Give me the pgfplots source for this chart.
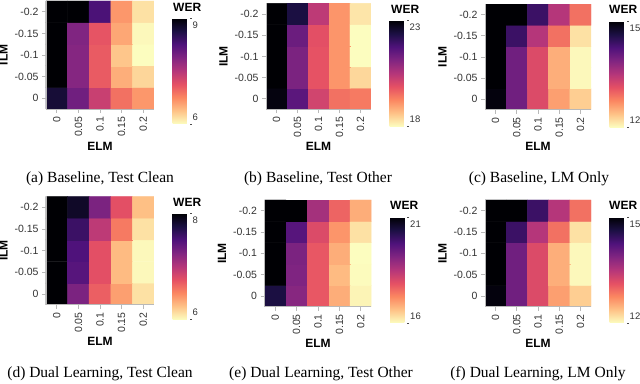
\documentclass[border=0pt]{standalone}
\usepackage{fontspec}
\setmainfont{Liberation Serif}
\newfontfamily\arial{Liberation Sans}
\usepackage{pgfplots}
\pgfplotsset{compat=1.18}

\pgfplotsset{
  colormap={magmar}{rgb255=(252,253,191) rgb255=(254,194,135) rgb255=(251,135,97)
    rgb255=(229,80,100) rgb255=(181,54,122) rgb255=(129,37,129) rgb255=(79,18,123)
    rgb255=(28,16,68) rgb255=(0,0,4)},
  hm/.style={
    scale only axis, anchor=north west,
    xmin=-0.5, xmax=4.5, ymin=-0.5, ymax=4.5, enlargelimits=false,
    axis x line*=bottom, axis y line*=left, axis on top,
    axis line style={gray!55, line width=0.8pt},
    tick style={gray!55, line width=0.8pt},
    tick align=outside, major tick length=4pt,
    xtick={0,...,4}, xticklabels={0,0.05,0.1,0.15,0.2},
    ytick={0,...,4}, yticklabels={0,-0.05,-0.1,-0.15,-0.2},
    x tick label style={rotate=90, anchor=east},
    tick label style={font=\arial\fontsize{10.5}{12}\selectfont, text=black!80},
    xlabel=ELM, ylabel=ILM,
    label style={font=\arial\bfseries\fontsize{12}{14}\selectfont},
    xlabel style={yshift=2pt},
    colormap name=magmar,
    colorbar,
    colorbar style={
      scale only axis,
      at={(parent axis.north east)}, anchor=north west,
      xshift=10pt, yshift=-17pt,
      width=17pt, height=106pt,
      axis line style={draw=none},
      ytick pos=right, tick align=outside, major tick length=2pt,
      tick style={black!70, line width=0.6pt},
      /pgf/number format/assume math mode=true,
      yticklabel style={font=\arial\fontsize{9.5}{11}\selectfont, text=black!80,
        anchor=north west, inner xsep=1pt},
      extra y tick style={yticklabel style={anchor=south west}},
    },
  },
  cells/.style={matrix plot*, mesh/cols=5, point meta=explicit},
}

\begin{document}
\begin{tikzpicture}
\useasboundingbox (0,0) rectangle (640pt,383pt);

% (a) Baseline, Test Clean
\begin{axis}[hm, at={(46pt,382pt)}, width=108pt, height=108pt,
  point meta min=6, point meta max=9,
  colorbar style={ytick={9}, extra y ticks={6}}]
\addplot[cells] table[meta=c, row sep=\\] {
x y c\\
0 0 8.7\\ 1 0 8.0\\ 2 0 7.35\\ 3 0 6.9\\ 4 0 6.65\\
0 1 9.0\\ 1 1 7.85\\ 2 1 7.05\\ 3 1 6.5\\ 4 1 6.25\\
0 2 9.0\\ 1 2 7.85\\ 2 2 7.05\\ 3 2 6.35\\ 4 2 6.0\\
0 3 9.0\\ 1 3 7.88\\ 2 3 7.1\\ 3 3 6.55\\ 4 3 6.03\\
0 4 9.0\\ 1 4 9.0\\ 2 4 8.28\\ 3 4 6.65\\ 4 4 6.18\\
};
\end{axis}

% (b) Baseline, Test Other
\begin{axis}[hm, at={(266pt,379.6pt)}, width=105pt, height=106pt,
  point meta min=18, point meta max=23,
  colorbar style={ytick={23}, extra y ticks={18}}]
\addplot[cells] table[meta=c, row sep=\\] {
x y c\\
0 0 22.9\\ 1 0 21.6\\ 2 0 20.15\\ 3 0 19.5\\ 4 0 19.4\\
0 1 23.0\\ 1 1 21.2\\ 2 1 19.85\\ 3 1 19.1\\ 4 1 18.4\\
0 2 23.0\\ 1 2 21.2\\ 2 2 19.85\\ 3 2 19.1\\ 4 2 18.0\\
0 3 23.0\\ 1 3 21.4\\ 2 3 19.9\\ 3 3 19.1\\ 4 3 18.0\\
0 4 23.0\\ 1 4 22.4\\ 2 4 20.4\\ 3 4 19.1\\ 4 4 18.25\\
};
\end{axis}

% (c) Baseline, LM Only
\begin{axis}[hm, at={(485pt,378.8pt)}, width=106pt, height=105.5pt,
  point meta min=12, point meta max=15,
  colorbar style={ytick={15}, extra y ticks={12}}]
\addplot[cells] table[meta=c, row sep=\\] {
x y c\\
0 0 14.95\\ 1 0 14.0\\ 2 0 13.2\\ 3 0 12.6\\ 4 0 12.3\\
0 1 15.0\\ 1 1 14.0\\ 2 1 13.2\\ 3 1 12.5\\ 4 1 12.03\\
0 2 15.0\\ 1 2 14.0\\ 2 2 13.2\\ 3 2 12.5\\ 4 2 12.03\\
0 3 15.0\\ 1 3 14.4\\ 2 3 13.5\\ 3 3 12.9\\ 4 3 12.18\\
0 4 15.0\\ 1 4 15.0\\ 2 4 14.4\\ 3 4 13.5\\ 4 4 12.9\\
};
\end{axis}

% (d) Dual Learning, Test Clean
\begin{axis}[hm, at={(46pt,186.5pt)}, width=108pt, height=108.3pt,
  point meta min=6, point meta max=8,
  colorbar style={ytick={8}, extra y ticks={6}}]
\addplot[cells] table[meta=c, row sep=\\] {
x y c\\
0 0 8.0\\ 1 0 7.28\\ 2 0 6.68\\ 3 0 6.4\\ 4 0 6.12\\
0 1 8.0\\ 1 1 7.46\\ 2 1 6.76\\ 3 1 6.28\\ 4 1 6.02\\
0 2 8.0\\ 1 2 7.5\\ 2 2 6.76\\ 3 2 6.28\\ 4 2 6.02\\
0 3 8.0\\ 1 3 7.6\\ 2 3 6.96\\ 3 3 6.56\\ 4 3 6.12\\
0 4 8.0\\ 1 4 7.86\\ 2 4 7.28\\ 3 4 6.76\\ 4 4 6.26\\
};
\end{axis}

% (e) Dual Learning, Test Other
\begin{axis}[hm, at={(264.5pt,183pt)}, width=107pt, height=106.7pt,
  point meta min=16, point meta max=21,
  colorbar style={ytick={21}, extra y ticks={16}}]
\addplot[cells] table[meta=c, row sep=\\] {
x y c\\
0 0 20.4\\ 1 0 19.05\\ 2 0 17.8\\ 3 0 16.85\\ 4 0 16.1\\
0 1 21.0\\ 1 1 19.15\\ 2 1 17.8\\ 3 1 16.7\\ 4 1 16.02\\
0 2 21.0\\ 1 2 19.2\\ 2 2 17.8\\ 3 2 16.85\\ 4 2 16.0\\
0 3 21.0\\ 1 3 19.65\\ 2 3 18.0\\ 3 3 17.1\\ 4 3 16.3\\
0 4 21.0\\ 1 4 21.0\\ 2 4 18.7\\ 3 4 17.65\\ 4 4 16.85\\
};
\end{axis}

% (f) Dual Learning, LM Only
\begin{axis}[hm, at={(485pt,183pt)}, width=106pt, height=106.7pt,
  point meta min=12, point meta max=15,
  colorbar style={ytick={15}, extra y ticks={12}}]
\addplot[cells] table[meta=c, row sep=\\] {
x y c\\
0 0 14.95\\ 1 0 14.0\\ 2 0 13.2\\ 3 0 12.6\\ 4 0 12.3\\
0 1 15.0\\ 1 1 14.0\\ 2 1 13.2\\ 3 1 12.5\\ 4 1 12.03\\
0 2 15.0\\ 1 2 14.0\\ 2 2 13.2\\ 3 2 12.5\\ 4 2 12.03\\
0 3 15.0\\ 1 3 14.4\\ 2 3 13.5\\ 3 3 12.9\\ 4 3 12.18\\
0 4 15.0\\ 1 4 15.0\\ 2 4 14.4\\ 3 4 13.5\\ 4 4 12.9\\
};
\end{axis}

% colour bar titles
\begin{scope}[every node/.style={font=\arial\bfseries\fontsize{12}{14}\selectfont, anchor=west, inner sep=0pt}]
\node at (173pt,376pt) {WER};
\node at (391pt,374pt) {WER};
\node at (609pt,374pt) {WER};
\node at (173pt,180.5pt) {WER};
\node at (390pt,178pt) {WER};
\node at (609pt,178pt) {WER};
\end{scope}

% captions
\begin{scope}[every node/.style={font=\fontsize{15.5}{18}\selectfont}]
\node at (100pt,204pt) {(a) Baseline, Test Clean};
\node at (318pt,204pt) {(b) Baseline, Test Other};
\node at (539pt,204pt) {(c) Baseline, LM Only};
\node at (100pt,9pt) {(d) Dual Learning, Test Clean};
\node at (321pt,9pt) {(e) Dual Learning, Test Other};
\node at (538pt,9pt) {(f) Dual Learning, LM Only};
\end{scope}
\end{tikzpicture}
\end{document}
